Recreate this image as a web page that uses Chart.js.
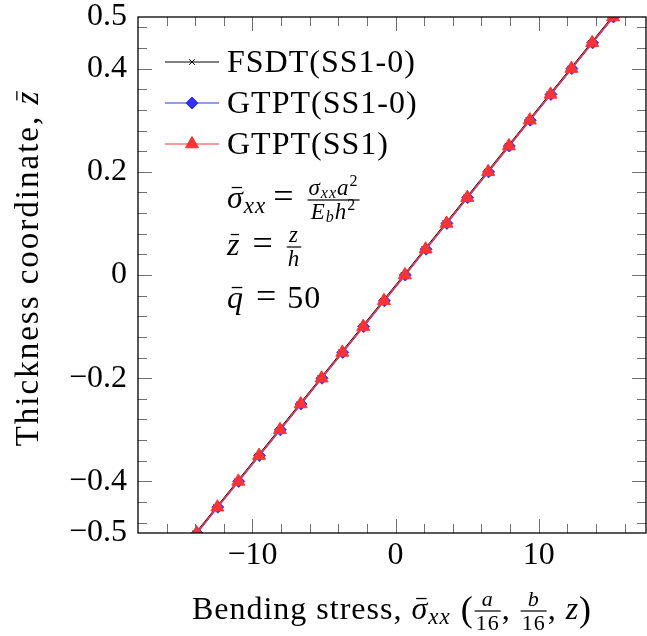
<!DOCTYPE html>
<html>
<head>
<meta charset="utf-8">
<script src="https://cdn.jsdelivr.net/npm/chart.js@4/dist/chart.umd.min.js"></script>
<style>
  html, body { margin: 0; padding: 0; background: #fff; }
  #wrap { width: 647px; height: 636px; }
</style>
</head>
<body>
<div id="wrap"><canvas id="chart" width="647" height="636"></canvas></div>
<script>
// thickness coordinate z/h
const zBar = [-0.5, -0.45, -0.4, -0.35, -0.3, -0.25, -0.2, -0.15, -0.1, -0.05, 0,
  0.05, 0.1, 0.15, 0.2, 0.25, 0.3, 0.35, 0.4, 0.45, 0.5];
// bending stress values
const fsdtSS10 = [-13.98, -12.53, -11.07, -9.62, -8.16, -6.71, -5.25, -3.80, -2.34, -0.89, 0.57,
  2.02, 3.48, 4.93, 6.39, 7.84, 9.30, 10.75, 12.21, 13.66, 15.12];
const gtptSS10 = [-13.87, -12.42, -10.96, -9.51, -8.05, -6.60, -5.14, -3.69, -2.23, -0.78, 0.68,
  2.13, 3.59, 5.04, 6.50, 7.95, 9.41, 10.86, 12.32, 13.77, 15.23];
const gtptSS1 = [-13.90, -12.45, -10.99, -9.54, -8.08, -6.63, -5.17, -3.72, -2.26, -0.81, 0.65,
  2.10, 3.56, 5.01, 6.47, 7.92, 9.38, 10.83, 12.29, 13.74, 15.20];

const seriesNames = ["FSDT(SS1-0)", "GTPT(SS1-0)", "GTPT(SS1)"];
const xTicks = [-10, 0, 10];
const yTicks = [-0.5, -0.4, -0.2, 0, 0.2, 0.4, 0.5];
const xMinorTicks = [-16, -14, -12, -10, -8, -6, -4, -2, 0, 2, 4, 6, 8, 10, 12, 14, 16];
const yMinorTicks = [-0.48, -0.44, -0.4, -0.36, -0.32, -0.28, -0.24, -0.2, -0.16, -0.12, -0.08, -0.04, 0,
  0.04, 0.08, 0.12, 0.16, 0.2, 0.24, 0.28, 0.32, 0.36, 0.4, 0.44, 0.48];

const FONT = '"Liberation Serif", "DejaVu Serif", serif';

function fmt(v) {
  if (v === 0) return "0";
  return (v < 0 ? "\u2212" : "") + Math.abs(v);
}

function pts(xs) {
  return xs.map((x, i) => ({ x: x, y: zBar[i] }));
}

// --- small rich text helpers (italic math, sub/superscripts, fractions) ---
function setFont(ctx, p) {
  ctx.font = (p.it ? "italic " : "") + p.s + "px " + FONT;
}
function fracWidth(ctx, p) {
  return Math.max(widthOf(ctx, p.frac[0]), widthOf(ctx, p.frac[1])) + 4;
}
function widthOf(ctx, parts) {
  let w = 0;
  for (const p of parts) {
    if (p.frac) { w += fracWidth(ctx, p) + (p.pl || 0); continue; }
    setFont(ctx, p);
    w += ctx.measureText(p.t).width + (p.pl || 0) + (p.pr || 0);
  }
  return w;
}
function drawParts(ctx, x, y, parts) {
  for (const p of parts) {
    x += p.pl || 0;
    if (p.frac) {
      const w = fracWidth(ctx, p);
      const ly = y - 8;
      const nw = widthOf(ctx, p.frac[0]);
      const dw = widthOf(ctx, p.frac[1]);
      drawParts(ctx, x + (w - nw) / 2, ly - 5, p.frac[0]);
      drawParts(ctx, x + (w - dw) / 2, ly + 19, p.frac[1]);
      ctx.fillRect(x + 1, ly - 0.6, w - 2, 1.2);
      x += w;
      continue;
    }
    setFont(ctx, p);
    const w = ctx.measureText(p.t).width;
    const dy = p.dy || 0;
    ctx.fillText(p.t, x, y + dy);
    if (p.bar) ctx.fillRect(x + w * 0.28, y + dy - p.s * 0.66, w * 0.62, 1.3);
    x += w + (p.pr || 0);
  }
  return x;
}

const xTitle = [
  { t: "Bending stress, ", s: 32 },
  { t: "\u03c3", s: 32, it: true, bar: true },
  { t: "xx", s: 23, it: true, dy: 5 },
  { t: " (", s: 36, dy: 2 },
  { frac: [[{ t: "a", s: 22, it: true }], [{ t: "16", s: 22 }]] },
  { t: ", ", s: 32 },
  { frac: [[{ t: "b", s: 22, it: true }], [{ t: "16", s: 22 }]] },
  { t: ", ", s: 32 },
  { t: "z", s: 32, it: true },
  { t: ")", s: 36, dy: 2 }
];
const yTitle = [
  { t: "Thickness coordinate, ", s: 33 },
  { t: "z", s: 33, it: true, bar: true }
];
const notes = [
  [
    { t: "\u03c3", s: 32, it: true, bar: true },
    { t: "xx", s: 23, it: true, dy: 5 },
    { t: "=", s: 36, pl: 7, pr: 12 },
    { frac: [
      [{ t: "\u03c3", s: 23, it: true }, { t: "xx", s: 16, it: true, dy: 3 }, { t: "a", s: 23, it: true }, { t: "2", s: 16, dy: -9 }],
      [{ t: "E", s: 23, it: true }, { t: "b", s: 16, it: true, dy: 3 }, { t: "h", s: 23, it: true }, { t: "2", s: 16, dy: -9 }]
    ] }
  ],
  [
    { t: "z", s: 32, it: true, bar: true },
    { t: "=", s: 36, pl: 12, pr: 12 },
    { frac: [[{ t: "z", s: 23, it: true }], [{ t: "h", s: 23, it: true }]] }
  ],
  [
    { t: "q", s: 32, it: true, bar: true },
    { t: "=", s: 36, pl: 12, pr: 10 },
    { t: "50", s: 32 }
  ]
];
const noteBaselines = [208, 255, 308];
const legendRows = [62, 103, 144];

const frame = {
  id: "frame",
  afterDraw(chart) {
    const ctx = chart.ctx;
    const a = chart.chartArea;
    const xs = chart.scales.x, ys = chart.scales.y;
    ctx.save();
    // inward ticks, minor then major
    ctx.strokeStyle = "#707070";
    ctx.lineWidth = 1;
    ctx.beginPath();
    for (const v of xMinorTicks) {
      const px = Math.round(xs.getPixelForValue(v)) + 0.5;
      const len = xTicks.includes(v) ? 14 : 9;
      ctx.moveTo(px, a.bottom); ctx.lineTo(px, a.bottom - len);
      ctx.moveTo(px, a.top); ctx.lineTo(px, a.top + len);
    }
    for (const v of yMinorTicks) {
      const py = Math.round(ys.getPixelForValue(v)) + 0.5;
      const len = yTicks.includes(v) ? 14 : 9;
      ctx.moveTo(a.left, py); ctx.lineTo(a.left + len, py);
      ctx.moveTo(a.right, py); ctx.lineTo(a.right - len, py);
    }
    ctx.stroke();
    // box
    ctx.strokeStyle = "#000";
    ctx.lineWidth = 1.3;
    ctx.strokeRect(a.left, a.top, a.right - a.left, a.bottom - a.top);

    ctx.fillStyle = "#000";
    ctx.textAlign = "left";
    ctx.textBaseline = "alphabetic";

    // x axis title
    ctx.letterSpacing = "1px";
    const cx = (a.left + a.right) / 2;
    const wx = widthOf(ctx, xTitle);
    drawParts(ctx, cx - wx / 2, 619, xTitle);

    // y axis title
    ctx.letterSpacing = "2px";
    const wy = widthOf(ctx, yTitle);
    ctx.save();
    ctx.translate(38, 268);
    ctx.rotate(-Math.PI / 2);
    drawParts(ctx, -wy / 2, 0, yTitle);
    ctx.restore();
    ctx.letterSpacing = "1px";

    // legend
    const ds = chart.data.datasets;
    ds.forEach((d, i) => {
      const y = legendRows[i];
      ctx.strokeStyle = d.borderColor;
      ctx.lineWidth = d.borderWidth;
      ctx.beginPath();
      ctx.moveTo(165, y); ctx.lineTo(219, y);
      ctx.stroke();
      ctx.fillStyle = d.pointBackgroundColor;
      ctx.strokeStyle = d.pointBorderColor;
      ctx.lineWidth = d.pointBorderWidth;
      Chart.helpers.drawPoint(ctx, {
        pointStyle: d.pointStyle, radius: d.pointRadius, rotation: 0, borderWidth: d.pointBorderWidth
      }, 192, y);
      ctx.fillStyle = "#000";
      setFont(ctx, { s: 32 });
      ctx.fillText(seriesNames[i], 227, y + 10);
    });

    // formula notes
    ctx.fillStyle = "#000";
    notes.forEach((n, i) => drawParts(ctx, 227, noteBaselines[i], n));
    ctx.letterSpacing = "0px";
    ctx.restore();
  }
};

new Chart(document.getElementById("chart"), {
  type: "line",
  data: {
    datasets: [
      {
        label: seriesNames[0],
        data: pts(fsdtSS10),
        borderColor: "#000",
        borderWidth: 1,
        pointStyle: "crossRot",
        pointRadius: 4,
        pointBorderWidth: 1,
        pointBackgroundColor: "#000",
        pointBorderColor: "#000",
        order: 1
      },
      {
        label: seriesNames[1],
        data: pts(gtptSS10),
        borderColor: "#3333ff",
        borderWidth: 1.2,
        pointStyle: "rectRot",
        pointRadius: 6,
        pointBorderWidth: 1,
        pointBackgroundColor: "#3333ff",
        pointBorderColor: "#3333ff",
        order: 2
      },
      {
        label: seriesNames[2],
        data: pts(gtptSS1),
        borderColor: "#ff3333",
        borderWidth: 1.2,
        pointStyle: "triangle",
        pointRadius: 7.5,
        pointBorderWidth: 1,
        pointBackgroundColor: "#ff3333",
        pointBorderColor: "#ff3333",
        order: 0
      }
    ]
  },
  options: {
    responsive: false,
    animation: false,
    layout: { autoPadding: false, padding: { top: 17, right: 1, left: 0, bottom: 0 } },
    plugins: { legend: { display: false }, tooltip: { enabled: false } },
    elements: { line: { tension: 0, fill: false } },
    scales: {
      x: {
        type: "linear",
        min: -18,
        max: 17.5,
        afterBuildTicks(s) { s.ticks = xTicks.map(v => ({ value: v })); },
        afterFit(s) { s.height = 103; s.paddingLeft = 0; s.paddingRight = 0; },
        grid: { display: false, drawTicks: false },
        border: { display: false },
        ticks: {
          color: "#000",
          padding: 3,
          maxRotation: 0,
          autoSkip: false,
          font: { family: FONT, size: 32 },
          callback: v => fmt(v)
        }
      },
      y: {
        type: "linear",
        min: -0.5,
        max: 0.5,
        afterBuildTicks(s) { s.ticks = yTicks.map(v => ({ value: v })); },
        afterFit(s) { s.width = 138; s.paddingTop = 0; s.paddingBottom = 0; },
        grid: { display: false, drawTicks: false },
        border: { display: false },
        ticks: {
          color: "#000",
          padding: 11,
          autoSkip: false,
          font: { family: FONT, size: 32 },
          callback: v => fmt(v)
        }
      }
    }
  },
  plugins: [frame]
});
</script>
</body>
</html>
